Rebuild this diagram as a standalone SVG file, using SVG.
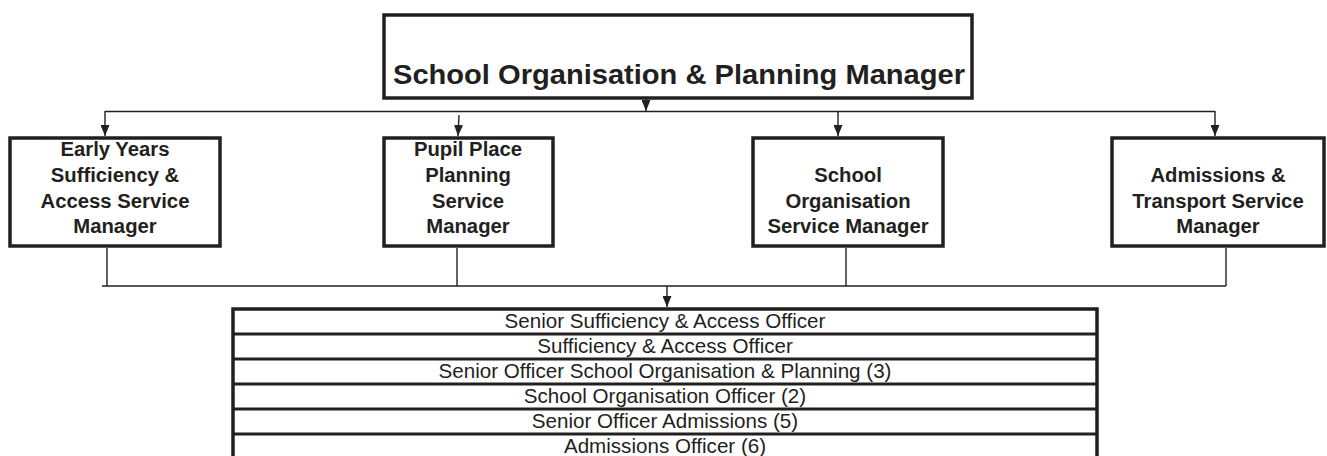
<svg xmlns="http://www.w3.org/2000/svg" width="1327" height="456" viewBox="0 0 1327 456">
<defs>
<marker id="arr" markerWidth="11" markerHeight="9" refX="11" refY="4.5" orient="auto" markerUnits="userSpaceOnUse" viewBox="0 0 11 9">
<path d="M0,0 L11,4.5 L0,9 Z" fill="#231f20"/>
</marker>
<style>
.box{fill:#fff;stroke:#231f20;stroke-width:3.5}
.ln{fill:none;stroke:#231f20;stroke-width:1.4}
.ar{fill:none;stroke:#231f20;stroke-width:1.4;marker-end:url(#arr)}
.tb{font-family:"Liberation Sans",Arial,sans-serif;font-weight:bold;font-size:20.3px;fill:#231f20;text-anchor:middle}
.tt{font-family:"Liberation Sans",Arial,sans-serif;font-weight:bold;font-size:28px;fill:#231f20;text-anchor:middle}
.tr{font-family:"Liberation Sans",Arial,sans-serif;font-size:20.6px;fill:#231f20;text-anchor:middle}
.row{fill:none;stroke:#231f20;stroke-width:3}
</style>
</defs>
<rect width="1327" height="456" fill="#fff"/>
<g id="connectors">
<line class="ar" x1="646" y1="99" x2="646" y2="111"/>
<line class="ln" x1="105" y1="111.5" x2="1215" y2="111.5"/>
<line class="ar" x1="105" y1="111" x2="105" y2="136"/>
<line class="ar" x1="459" y1="115" x2="458" y2="136"/>
<line class="ar" x1="838" y1="111" x2="838" y2="136"/>
<line class="ar" x1="1215" y1="111" x2="1215" y2="136"/>
<line class="ln" x1="107" y1="248" x2="107" y2="286"/>
<line class="ln" x1="457" y1="248" x2="457" y2="286"/>
<line class="ln" x1="846" y1="248" x2="846" y2="286"/>
<line class="ln" x1="1226" y1="248" x2="1226" y2="286"/>
<line class="ln" x1="102" y1="286" x2="1226" y2="286"/>
<line class="ar" x1="667" y1="286" x2="667" y2="307"/>
</g>
<g id="top">
<rect class="box" x="384" y="15" width="588" height="83"/>
<text class="tt" x="679" y="84" textLength="572" lengthAdjust="spacingAndGlyphs">School Organisation &amp; Planning Manager</text>
</g>
<g id="early-years">
<rect class="box" x="10" y="138" width="210" height="108"/>
<text class="tb" x="115" y="156">Early Years</text>
<text class="tb" x="115" y="182">Sufficiency &amp;</text>
<text class="tb" x="115" y="208">Access Service</text>
<text class="tb" x="115" y="233">Manager</text>
</g>
<g id="pupil-place">
<rect class="box" x="384" y="138" width="169" height="108"/>
<text class="tb" x="468" y="156">Pupil Place</text>
<text class="tb" x="468" y="182">Planning</text>
<text class="tb" x="468" y="208">Service</text>
<text class="tb" x="468" y="233">Manager</text>
</g>
<g id="school-org">
<rect class="box" x="753" y="138" width="190" height="108"/>
<text class="tb" x="848" y="182">School</text>
<text class="tb" x="848" y="208">Organisation</text>
<text class="tb" x="848" y="233">Service Manager</text>
</g>
<g id="admissions">
<rect class="box" x="1112" y="138" width="212" height="108"/>
<text class="tb" x="1218" y="182">Admissions &amp;</text>
<text class="tb" x="1218" y="208">Transport Service</text>
<text class="tb" x="1218" y="233">Manager</text>
</g>
<g id="officers">
<rect class="box" x="233" y="309" width="864" height="160"/>
<line class="row" x1="233" y1="334" x2="1097" y2="334"/>
<line class="row" x1="233" y1="359" x2="1097" y2="359"/>
<line class="row" x1="233" y1="384" x2="1097" y2="384"/>
<line class="row" x1="233" y1="409" x2="1097" y2="409"/>
<line class="row" x1="233" y1="434" x2="1097" y2="434"/>
<text class="tr" x="665" y="328">Senior Sufficiency &amp; Access Officer</text>
<text class="tr" x="665" y="353">Sufficiency &amp; Access Officer</text>
<text class="tr" x="665" y="378">Senior Officer School Organisation &amp; Planning (3)</text>
<text class="tr" x="665" y="403">School Organisation Officer (2)</text>
<text class="tr" x="665" y="428">Senior Officer Admissions (5)</text>
<text class="tr" x="665" y="453">Admissions Officer (6)</text>
</g>
</svg>
